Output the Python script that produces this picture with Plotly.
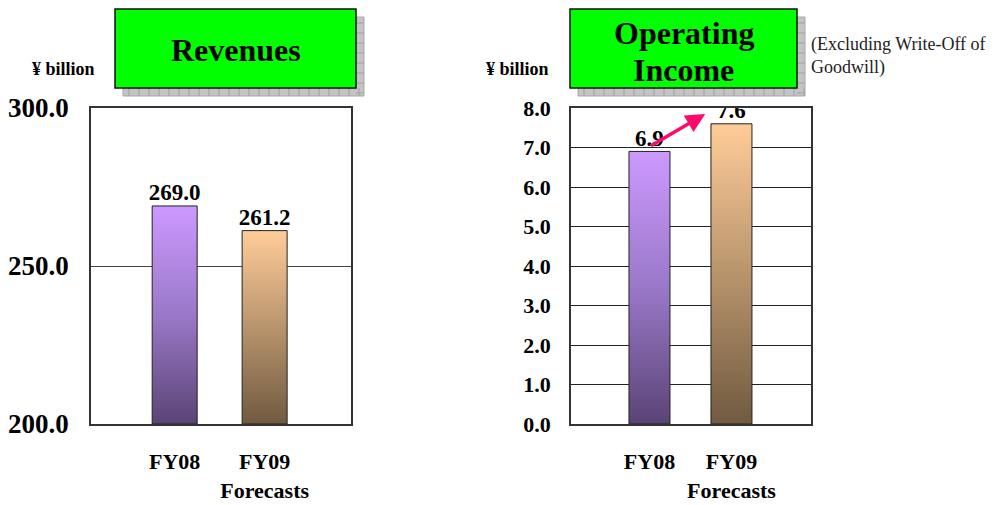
import plotly.graph_objects as go

# Data
categories = ["FY08", "FY09<br>Forecasts"]
revenues = [269.0, 261.2]
op_income = [6.9, 7.6]
rev_ticks = [200.0, 250.0, 300.0]
oi_ticks = [0.0, 1.0, 2.0, 3.0, 4.0, 5.0, 6.0, 7.0, 8.0]

W, H = 1006, 505
SERIF = "Liberation Serif"
grads = [
    [[0, "#5a4475"], [0.5, "#9a78c8"], [1, "#cc99ff"]],
    [[0, "#705a40"], [0.5, "#b8946c"], [1, "#ffcc99"]],
]
BAR_W = 0.5

fig = go.Figure()


def add_bars(values, base, xa, ya):
    for i, v in enumerate(values):
        xs = [i - BAR_W / 2, i - BAR_W / 2, i + BAR_W / 2, i + BAR_W / 2, i - BAR_W / 2]
        ys = [base, v, v, base, base]
        fig.add_trace(go.Scatter(
            x=xs, y=ys, xaxis=xa, yaxis=ya, mode="lines", fill="toself",
            fillgradient=dict(type="vertical", colorscale=grads[i]),
            line=dict(color="#222222", width=1), hoverinfo="skip", showlegend=False,
        ))
    fig.add_trace(go.Scatter(
        x=list(range(len(values))), y=values, xaxis=xa, yaxis=ya, mode="text",
        text=[f"{v:.1f}" for v in values], texttemplate="<b>%{text}</b>",
        textposition="top center",
        textfont=dict(family=SERIF, size=23, color="black"),
        hoverinfo="skip", showlegend=False,
    ))


add_bars(revenues, rev_ticks[0], "x", "y")
add_bars(op_income, oi_ticks[0], "x2", "y2")


def px_x(p):
    return p / W


def px_y(p):
    return 1 - p / H


axis_common = dict(showline=True, linecolor="#333333", linewidth=1.5, mirror=True,
                   zeroline=False, automargin=False)
cat_text = [f"<b>{c}</b>".replace("<br>", "</b><br><b>") for c in categories]

fig.update_layout(
    width=W, height=H, margin=dict(l=0, r=0, t=0, b=0, autoexpand=False),
    plot_bgcolor="white", paper_bgcolor="white",
    xaxis=dict(domain=[px_x(91), px_x(351)], range=[-0.93, 1.96],
               tickvals=[0, 1], ticktext=cat_text, showgrid=False,
               ticklabelstandoff=17,
               tickfont=dict(family=SERIF, size=22, color="black"), **axis_common),
    yaxis=dict(domain=[px_y(424), px_y(108)], range=[200, 300],
               tickvals=rev_ticks, ticktext=[f"<b>{t:.1f}</b>" for t in rev_ticks],
               showgrid=True, gridcolor="#444444", gridwidth=1,
               ticklabelstandoff=15,
               tickfont=dict(family=SERIF, size=27, color="black"), **axis_common),
    xaxis2=dict(domain=[px_x(571), px_x(811)], range=[-0.957, 1.97], anchor="y2",
                tickvals=[0, 1], ticktext=cat_text, showgrid=False,
                ticklabelstandoff=17,
                tickfont=dict(family=SERIF, size=22, color="black"), **axis_common),
    yaxis2=dict(domain=[px_y(424), px_y(108)], range=[0, 8], anchor="x2",
                tickvals=oi_ticks, ticktext=[f"<b>{t:.1f}</b>" for t in oi_ticks],
                showgrid=True, gridcolor="#222222", gridwidth=1,
                ticklabelstandoff=14,
                tickfont=dict(family=SERIF, size=22, color="black"), **axis_common),
)

shapes = []
annotations = []


def note(x, y, text, size, xanchor="center", bold=True, color="black"):
    annotations.append(dict(xref="paper", yref="paper", x=px_x(x), y=px_y(y),
                            text=f"<b>{text}</b>" if bold else text, showarrow=False,
                            xanchor=xanchor, yanchor="middle",
                            font=dict(family=SERIF, size=size, color=color)))


def title_box(x0, x1, y0, y1, lines, line_ys):
    # drop shadow with a faint grid texture
    shapes.append(dict(type="rect", xref="paper", yref="paper",
                       x0=px_x(x0 + 8), x1=px_x(x1 + 8), y0=px_y(y1 + 8), y1=px_y(y0 + 8),
                       fillcolor="#c4c4c4", line=dict(color="#a8a8a8", width=1), layer="below"))
    for gx in range(x0 + 14, x1 + 8, 10):
        shapes.append(dict(type="line", xref="paper", yref="paper",
                           x0=px_x(gx), x1=px_x(gx), y0=px_y(y1 + 8), y1=px_y(y1),
                           line=dict(color="#a0a0a0", width=1)))
    for gy in range(y0 + 14, y1 + 8, 10):
        shapes.append(dict(type="line", xref="paper", yref="paper",
                           x0=px_x(x1), x1=px_x(x1 + 8), y0=px_y(gy), y1=px_y(gy),
                           line=dict(color="#a0a0a0", width=1)))
    shapes.append(dict(type="rect", xref="paper", yref="paper",
                       x0=px_x(x0), x1=px_x(x1), y0=px_y(y1), y1=px_y(y0),
                       fillcolor="#00ff00", line=dict(color="#111111", width=1.5)))
    for txt, ly in zip(lines, line_ys):
        note((x0 + x1) / 2, ly, txt, 32)


title_box(115, 356, 9, 88, ["Revenues"], [50])
title_box(570, 797, 9, 88, ["Operating", "Income"], [33, 70])

for cx in (64, 517):
    note(cx, 69, "¥ billion", 18)

note(809, 45, "(Excluding Write-Off of", 18, xanchor="left", bold=False, color="#222222")
note(809, 67, "Goodwill)", 18, xanchor="left", bold=False, color="#222222")

# growth arrow between operating income bars
annotations.append(dict(xref="x2", yref="y2", axref="x2", ayref="y2",
                        x=0.68, y=7.85, ax=0.0, ay=op_income[0] + 0.12,
                        text="", showarrow=True, arrowhead=2, arrowsize=1.1,
                        arrowwidth=3.5, arrowcolor="#ff0a6c"))

fig.update_layout(shapes=shapes, annotations=annotations)
fig.write_html("out.html")
